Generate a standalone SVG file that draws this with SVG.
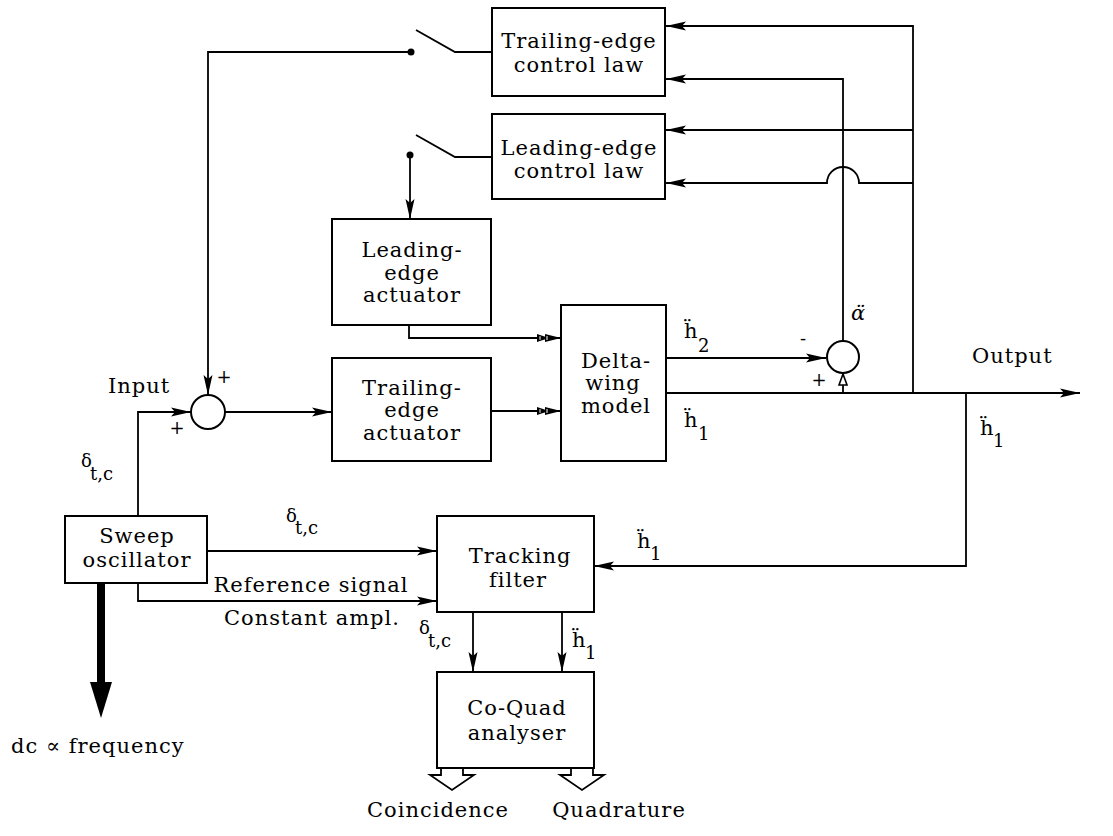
<svg xmlns="http://www.w3.org/2000/svg" width="1113" height="836" viewBox="0 0 1113 836">
<style>
  .box { fill: #fff; stroke: #000; stroke-width: 2; }
  .ln { fill: none; stroke: #000; stroke-width: 1.8; }
  .t { font-family: "DejaVu Serif", "Liberation Serif", serif; font-size: 21px; letter-spacing: 1px; fill: #000; text-anchor: middle; }
  .ts { font-family: "DejaVu Serif", "Liberation Serif", serif; font-size: 21px; letter-spacing: 1px; fill: #000; }
  .hh { font-family: "DejaVu Serif", "Liberation Serif", serif; font-size: 21px; fill: #000; }
  .sym { font-family: "DejaVu Serif", "Liberation Serif", serif; font-size: 18px; fill: #000; }
  .sub { font-family: "DejaVu Serif", "Liberation Serif", serif; font-size: 18px; fill: #000; }
</style>
<defs>
  <marker id="arr" markerUnits="userSpaceOnUse" markerWidth="24" markerHeight="12" refX="20" refY="5" orient="auto">
    <path d="M0,0.5 L20,5 L0,9.5 L4,5 Z" fill="#000"/>
  </marker>
  <marker id="darr" markerUnits="userSpaceOnUse" markerWidth="26" markerHeight="12" refX="24" refY="5" orient="auto">
    <path d="M0,1 L12,5 L0,9 Z M8,1 L24,5 L8,9 Z" fill="#000"/>
    <path d="M3,3.2 L3,6.8 M10,3 L10,7" stroke="#fff" stroke-width="1"/>
  </marker>
  <marker id="harr" markerUnits="userSpaceOnUse" markerWidth="14" markerHeight="12" refX="12" refY="5" orient="auto">
    <path d="M1,1 L12,5 L1,9 Z" fill="#fff" stroke="#000" stroke-width="1.6"/>
  </marker>
</defs>
<rect width="1113" height="836" fill="#fff"/>

<g id="connectors">
  <path class="ln" d="M666,393 L1080,393" marker-end="url(#arr)"/>
  <path class="ln" d="M666,358 L826,358" marker-end="url(#arr)"/>
  <path class="ln" d="M843,393 L843,374" marker-end="url(#harr)"/>
  <path class="ln" d="M843,341 L843,79 L666,79" marker-end="url(#arr)"/>
  <path class="ln" d="M913,393 L913,26 L666,26" marker-end="url(#arr)"/>
  <path class="ln" d="M913,130 L666,130" marker-end="url(#arr)"/>
  <path class="ln" d="M913,183 L859,183 A16,16 0 0 0 827,183 L666,183" marker-end="url(#arr)"/>
  <path class="ln" d="M492,52 L455,52 L416,30"/>
  <circle cx="411" cy="52" r="3.5" fill="#000"/>
  <path class="ln" d="M411,52 L208,52 L208,395" marker-end="url(#arr)"/>
  <path class="ln" d="M492,157 L455,157 L416,135"/>
  <circle cx="410" cy="155" r="3.5" fill="#000"/>
  <path class="ln" d="M410,155 L410,219" marker-end="url(#arr)"/>
  <path class="ln" d="M409,325 L409,338 L561,338" marker-end="url(#darr)"/>
  <path class="ln" d="M491,411 L561,411" marker-end="url(#darr)"/>
  <path class="ln" d="M225,412 L332,412" marker-end="url(#arr)"/>
  <path class="ln" d="M138,516 L138,412 L191,412" marker-end="url(#arr)"/>
  <path class="ln" d="M207,551 L437,551" marker-end="url(#arr)"/>
  <path class="ln" d="M138,583 L138,601 L437,601" marker-end="url(#arr)"/>
  <path class="ln" d="M966,393 L966,566 L594,566" marker-end="url(#arr)"/>
  <path class="ln" d="M473,612 L473,672" marker-end="url(#arr)"/>
  <path class="ln" d="M562,612 L562,672" marker-end="url(#arr)"/>
  <rect x="97" y="583" width="8" height="100" fill="#000"/>
  <path d="M90,682 L112,682 L101,718 Z" fill="#000"/>
  <path d="M441,768 L441,775 L430,775 L452,790 L474,775 L463,775 L463,768" fill="#fff" stroke="#000" stroke-width="1.8"/>
  <path d="M571,768 L571,775 L560,775 L582,790 L604,775 L593,775 L593,768" fill="#fff" stroke="#000" stroke-width="1.8"/>
</g>

<g id="te-control-law">
  <rect class="box" x="492" y="8" width="173" height="88"/>
  <text class="t" x="579" y="48">Trailing-edge</text>
  <text class="t" x="579" y="72">control law</text>
</g>
<g id="le-control-law">
  <rect class="box" x="492" y="114" width="173" height="85"/>
  <text class="t" x="579" y="155">Leading-edge</text>
  <text class="t" x="579" y="178">control law</text>
</g>
<g id="le-actuator">
  <rect class="box" x="332" y="219" width="159" height="106"/>
  <text class="t" x="412" y="257">Leading-</text>
  <text class="t" x="412" y="280">edge</text>
  <text class="t" x="412" y="302">actuator</text>
</g>
<g id="te-actuator">
  <rect class="box" x="332" y="358" width="159" height="103"/>
  <text class="t" x="412" y="395">Trailing-</text>
  <text class="t" x="412" y="417">edge</text>
  <text class="t" x="412" y="440">actuator</text>
</g>
<g id="delta-wing">
  <rect class="box" x="561" y="305" width="105" height="156"/>
  <text class="t" x="616" y="368">Delta-</text>
  <text class="t" x="613" y="390">wing</text>
  <text class="t" x="616" y="413">model</text>
</g>
<g id="sum-input">
  <circle cx="208" cy="412" r="17" fill="#fff" stroke="#000" stroke-width="2"/>
  <text class="sym" x="224" y="383" text-anchor="middle">+</text>
  <text class="sym" x="177" y="434" text-anchor="middle">+</text>
</g>
<g id="sum-alpha">
  <circle cx="843" cy="357" r="16" fill="#fff" stroke="#000" stroke-width="2"/>
  <text class="sym" x="803" y="345" text-anchor="middle">-</text>
  <text class="sym" x="819" y="386" text-anchor="middle">+</text>
</g>
<g id="sweep-oscillator">
  <rect class="box" x="65" y="516" width="142" height="67"/>
  <text class="t" x="137" y="543">Sweep</text>
  <text class="t" x="137" y="567">oscillator</text>
</g>
<g id="tracking-filter">
  <rect class="box" x="437" y="516" width="157" height="96"/>
  <text class="t" x="520" y="563">Tracking</text>
  <text class="t" x="518" y="587">filter</text>
</g>
<g id="co-quad">
  <rect class="box" x="437" y="672" width="157" height="96"/>
  <text class="t" x="517" y="715">Co-Quad</text>
  <text class="t" x="517" y="740">analyser</text>
</g>

<g id="labels">
  <text class="ts" x="108" y="393">Input</text>
  <text class="ts" x="972" y="363">Output</text>
  <text class="t" x="311" y="592">Reference signal</text>
  <text class="t" x="312" y="625">Constant ampl.</text>
  <text class="ts" x="11" y="753">dc ∝ frequency</text>
  <text class="t" x="438" y="817">Coincidence</text>
  <text class="t" x="619" y="817">Quadrature</text>

  <text class="sub" x="81" y="467">δ</text><text class="sub" x="90" y="480">t,c</text>
  <text class="sub" x="286" y="522">δ</text><text class="sub" x="295" y="534">t,c</text>
  <text class="sub" x="419" y="634">δ</text><text class="sub" x="428" y="647">t,c</text>

  <text class="hh" x="684" y="338">ḧ</text><text class="sub" x="698" y="352">2</text>
  <text class="hh" x="684" y="427">ḧ</text><text class="sub" x="698" y="440">1</text>
  <text class="hh" x="980" y="435">ḧ</text><text class="sub" x="993" y="447">1</text>
  <text class="hh" x="637" y="548">ḧ</text><text class="sub" x="650" y="560">1</text>
  <text class="hh" x="572" y="647">ḧ</text><text class="sub" x="585" y="659">1</text>
  <text class="hh" x="851" y="320" font-style="italic">α̈</text>
</g>
</svg>
